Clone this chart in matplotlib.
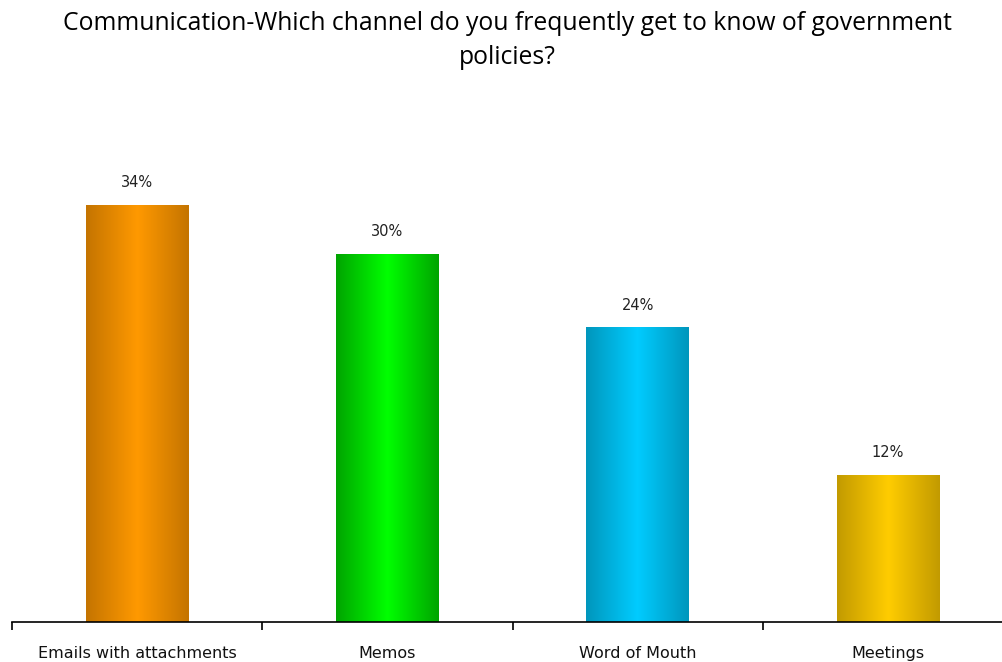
import numpy as np
import matplotlib
matplotlib.use('Agg')
import matplotlib.pyplot as plt
from matplotlib.colors import LinearSegmentedColormap

categories = ['Emails with attachments', 'Memos', 'Word of Mouth', 'Meetings']
values = [34, 30, 24, 12]
centre_colors = ['#FF9900', '#00FF00', '#00CCFF', '#FFCC00']
edge_colors = ['#C47400', '#00A400', '#0096BC', '#C29A00']

fig = plt.figure(figsize=(10.03, 6.62), dpi=100)
ax = fig.add_axes([12 / 1003, 40 / 662, 1001 / 1003, 491 / 662])

x = np.arange(len(categories))
bars = ax.bar(x, values, width=0.41, facecolor='none', edgecolor='none')

grad = np.linspace(0, 1, 256).reshape(1, -1)
for rect, c_mid, c_edge in zip(bars, centre_colors, edge_colors):
    cmap = LinearSegmentedColormap.from_list('g', [c_edge, c_mid, c_edge])
    x0, w, h = rect.get_x(), rect.get_width(), rect.get_height()
    im = ax.imshow(grad, cmap=cmap, aspect='auto', extent=[x0, x0 + w, 0, h],
                   interpolation='bicubic', zorder=2)
    im.set_clip_path(rect)
    ax.text(x0 + w / 2, h + 1.2, f'{int(h)}%', ha='center', va='bottom',
            fontsize=10.5, family='DejaVu Sans', color='#222222')

ax.set_xlim(-0.5, len(categories) - 0.5)
ax.set_ylim(0, 40)
for s in ['top', 'right', 'left']:
    ax.spines[s].set_visible(False)
ax.spines['bottom'].set_linewidth(1.2)
ax.set_yticks([])
ax.set_xticks(x)
ax.set_xticklabels(categories, fontsize=11.5, family='DejaVu Sans', color='#111111')
ax.tick_params(axis='x', which='major', length=0, pad=17)
ax.set_xticks(np.arange(len(categories) + 1) - 0.5, minor=True)
ax.tick_params(axis='x', which='minor', length=6, width=1.2, direction='out')

fig.text(0.506, 0.983, 'Communication-Which channel do you frequently get to know of government\npolicies?',
         ha='center', va='top', fontsize=17.8, family='Open Sans', linespacing=1.45)

fig.savefig('out.png', dpi=100)
